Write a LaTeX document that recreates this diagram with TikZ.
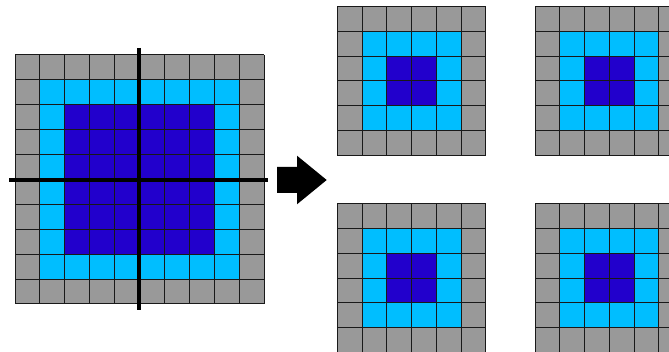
\documentclass[tikz,border=0pt]{standalone}
\definecolor{cgray}{RGB}{153,153,153}
\definecolor{clight}{RGB}{0,190,255}
\definecolor{cdark}{RGB}{34,0,204}
\tikzset{gridline/.style={draw=black!90,line width=1pt},
  cutline/.style={draw=black,line width=4pt},
  bigarrow/.style={fill=black}}
\newcommand\pixgrid[4]{%
  \pgfmathsetmacro\GS{#3*#4}%
  \fill[cgray] (#1,#2) rectangle ++(\GS,\GS);
  \fill[clight] (#1+#4,#2+#4) rectangle (#1+\GS-#4,#2+\GS-#4);
  \fill[cdark] (#1+2*#4,#2+2*#4) rectangle (#1+\GS-2*#4,#2+\GS-2*#4);
  \foreach \k in {0,...,#3} {%
    \draw[gridline] (#1+\k*#4,#2) -- ++(0,\GS);
    \draw[gridline] (#1,#2+\k*#4) -- ++(\GS,0);
  }%
}
\begin{document}
\begin{tikzpicture}[x=1pt,y=-1pt]
\clip (0,0) rectangle (669,352);
\fill[white] (0,0) rectangle (669,352);
% big grid
\pixgrid{15}{55}{10}{24.9}
\coordinate (vt) at (139.3,48);
\coordinate (vb) at (139.3,310);
\coordinate (hl) at (9,180);
\coordinate (hr) at (268,180);
\draw[cutline] (vt) -- (vb);
\draw[cutline] (hl) -- (hr);
% arrow
\fill[bigarrow] (277,167) -- (297,167) -- (297,155.7) -- (326.7,180) -- (297,204.3) -- (297,193) -- (277,193) -- cycle;
% small grids
\pixgrid{337.3}{6.7}{6}{24.75}
\pixgrid{535}{6.7}{6}{24.75}
\pixgrid{337.3}{204}{6}{24.75}
\pixgrid{535}{204}{6}{24.75}
\end{tikzpicture}
\end{document}
